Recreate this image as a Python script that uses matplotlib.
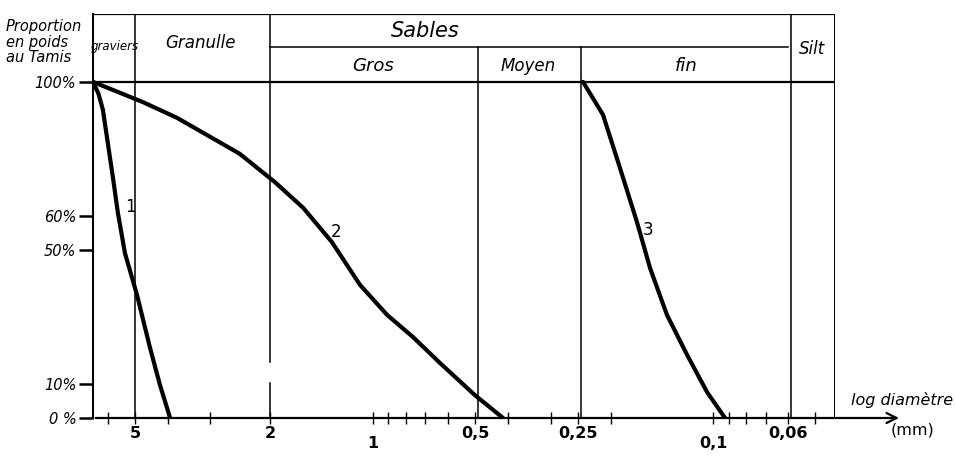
import numpy as np
import matplotlib
matplotlib.use('Agg')
import matplotlib.pyplot as plt

# courbes granulometriques (diametre en mm, % passant)
d1 = [6.64, 6.40, 6.21, 5.80, 5.61, 5.35, 4.93, 4.52, 4.22, 3.94]
p1 = [100, 96.5, 91.7, 71.4, 61.0, 49.1, 36.6, 21.1, 9.8, 0]

d2 = [6.64, 4.74, 3.76, 3.07, 2.46, 1.94, 1.60, 1.32, 1.09, 0.908, 0.762, 0.635, 0.501, 0.414]
p2 = [100, 94.0, 89.3, 84.2, 78.6, 70.2, 62.5, 52.4, 39.6, 30.7, 24.1, 16.4, 6.8, 0]

d3 = [0.241, 0.2105, 0.1877, 0.1673, 0.1531, 0.1366, 0.1192, 0.1041, 0.0922]
p3 = [100, 90.2, 74.4, 58.3, 44.6, 30.7, 18.8, 7.7, 0]

xticks_major = [5, 2, 1, 0.5, 0.25, 0.1, 0.06]
xtick_labels = ['5', '2', '1', '0,5', '0,25', '0,1', '0,06']
xticks_minor = [6, 4, 3, 0.9, 0.8, 0.7, 0.6, 0.4, 0.3, 0.2, 0.09, 0.08, 0.07, 0.05]
yticks = [0, 10, 50, 60, 100]
ytick_labels = ['0 %', '10%', '50%', '60%', '100%']

X_LEFT = 6.64
X_RIGHT = 0.0438
Y_TOP = 120.2
Y_MID = 110.4

fig = plt.figure(figsize=(9.56, 4.59), dpi=100)
ax = fig.add_axes([93/956, 41/459, 742/956, 404/459])
ax.set_xscale('log')
ax.set_xlim(X_LEFT, X_RIGHT)
ax.set_ylim(0, Y_TOP)

lw_grid = 1.1
for s in ['top', 'right', 'bottom']:
    ax.spines[s].set_visible(False)
ax.spines['left'].set_linewidth(1.5)

# cadre et lignes de l'en-tete
ax.plot([X_LEFT, X_RIGHT], [Y_TOP, Y_TOP], color='black', lw=1.6)
ax.plot([X_LEFT, X_RIGHT], [100, 100], color='black', lw=1.6)
ax.plot([2, 0.06], [Y_MID, Y_MID], color='black', lw=lw_grid)
ax.plot([X_RIGHT, X_RIGHT], [0, Y_TOP], color='black', lw=1.4)
ax.plot([5, 5], [0, Y_TOP], color='black', lw=lw_grid)
ax.plot([2, 2], [16.7, Y_TOP], color='black', lw=lw_grid)
ax.plot([2, 2], [0, 10.4], color='black', lw=lw_grid)
ax.plot([0.49, 0.49], [0, Y_MID], color='black', lw=lw_grid)
ax.plot([0.245, 0.245], [0, Y_MID], color='black', lw=lw_grid)
ax.plot([0.059, 0.059], [0, Y_TOP], color='black', lw=lw_grid)

hand = dict(ha='center', va='center', color='black', fontstyle='italic')
ax.text(5.75, Y_MID, 'graviers', fontsize=8.5, **hand)
ax.text(3.2, Y_MID + 1.2, 'Granulle', fontsize=12, **hand)
ax.text(0.7, 115.0, 'Sables', fontsize=15, **hand)
ax.text(1.0, 104.6, 'Gros', fontsize=13, **hand)
ax.text(0.35, 104.6, 'Moyen', fontsize=12, **hand)
ax.text(0.12, 104.6, 'fin', fontsize=13, **hand)
ax.text(0.051, Y_MID - 0.5, 'Silt', fontsize=12, **hand)

# courbes
for d, p in [(d1, p1), (d2, p2), (d3, p3)]:
    ax.plot(d, p, color='black', lw=3.0, solid_capstyle='round', solid_joinstyle='round')
ax.text(5.15, 62.8, '1', fontsize=12, ha='center', va='center')
ax.text(1.28, 55.4, '2', fontsize=12, ha='center', va='center')
ax.text(0.155, 56.0, '3', fontsize=12, ha='center', va='center')

# axes
ax.set_xticks(xticks_major)
ax.set_xticklabels(xtick_labels, fontweight='semibold')
ax.set_xticks(xticks_minor, minor=True)
ax.xaxis.set_minor_formatter(matplotlib.ticker.NullFormatter())
ax.tick_params(axis='x', which='both', direction='inout', length=8, width=1.0,
               labelsize=11.5, pad=2)
for i, t in enumerate(ax.xaxis.get_major_ticks()):
    if xtick_labels[i] in ('1', '0,1'):
        t.set_pad(9)

ax.set_yticks(yticks)
ax.set_yticklabels(ytick_labels)
ax.tick_params(axis='y', direction='out', length=10, width=1.8, labelsize=10.5, pad=2)
for lab in ax.get_yticklabels():
    lab.set_fontstyle('italic')

ax.annotate('', xy=(1.09, 0), xytext=(0, 0), xycoords='axes fraction',
            textcoords='axes fraction',
            arrowprops=dict(arrowstyle='->', lw=1.6, color='black', mutation_scale=18),
            annotation_clip=False)

fig.text(902/956, 1 - 400/459, 'log diamètre', fontsize=11.5, fontstyle='italic',
         ha='center', va='center')
fig.text(912/956, 1 - 430/459, '(mm)', fontsize=11.5, ha='center', va='center')
fig.text(6/956, 1 - 42/459, 'Proportion\nen poids\nau Tamis', fontsize=10.5,
         fontstyle='italic', ha='left', va='center', linespacing=1.0)

fig.savefig('out.png', dpi=100)
